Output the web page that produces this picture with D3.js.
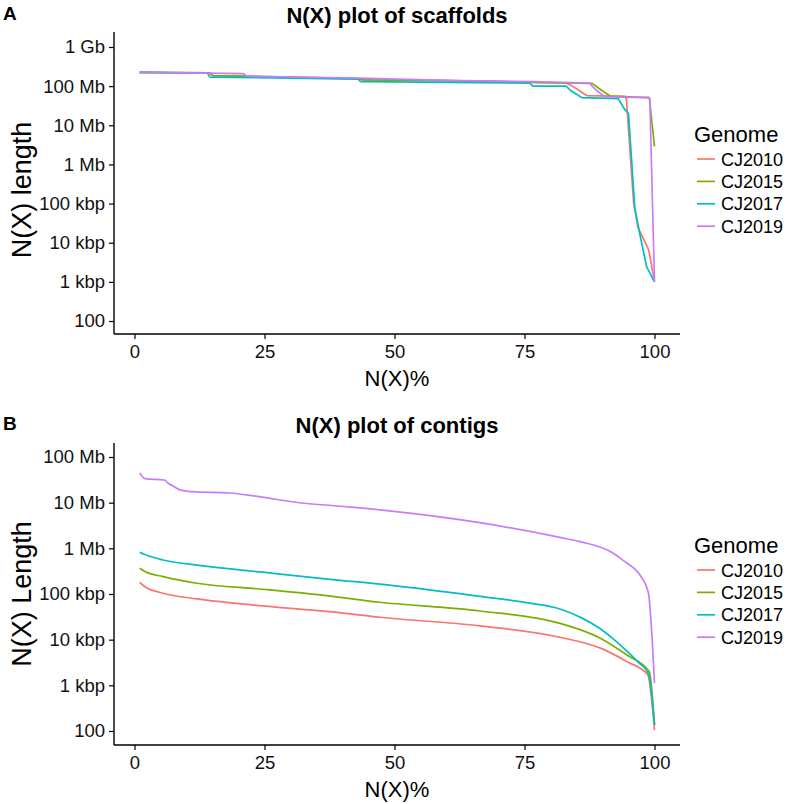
<!DOCTYPE html>
<html>
<head>
<meta charset="utf-8">
<script src="https://cdn.jsdelivr.net/npm/d3@7"></script>
<style>
  html, body { margin: 0; padding: 0; background: #fff; }
  svg { display: block; font-family: "Liberation Sans", Arial, sans-serif; }
</style>
</head>
<body>
<svg id="chart" width="787" height="804"></svg>
<script>
// ---------- DATA ----------
const genomes = ["CJ2010", "CJ2015", "CJ2017", "CJ2019"];
const colors = ["#F8766D", "#7CAE00", "#00BFC4", "#C77CFF"];

const xTicks = [0, 25, 50, 75, 100];

const scaffoldTicks = [1e9, 1e8, 1e7, 1e6, 1e5, 1e4, 1e3, 100];
const scaffoldTickLabels = ["1 Gb", "100 Mb", "10 Mb", "1 Mb", "100 kbp", "10 kbp", "1 kbp", "100"];

const contigTicks = [1e8, 1e7, 1e6, 1e5, 1e4, 1e3, 100];
const contigTickLabels = ["100 Mb", "10 Mb", "1 Mb", "100 kbp", "10 kbp", "1 kbp", "100"];

// Scaffold N(X): [N(X)%, length in bp]
const scaffoldCJ2010 = [[1,2.26e8],[7,2.2e8],[14.5,2.15e8],[15,1.85e8],[21,1.8e8],[30,1.65e8],[43,1.55e8],[44,1.45e8],[60,1.38e8],[72,1.3e8],[77,1.25e8],[83,1.2e8],[84.5,9.5e7],[86,7.0e7],[87,5.7e7],[94.3,5.5e7],[94.6,4.7e7],[96,1.0e5],[96.8,2.5e4],[98.9,6.5e3],[100,1.0e3]];
const scaffoldCJ2015 = [[1,2.26e8],[14.5,2.2e8],[15,1.85e8],[21,1.8e8],[43,1.55e8],[44,1.45e8],[60,1.38e8],[77,1.25e8],[88,1.18e8],[90,7.5e7],[91.5,5.6e7],[99,5.1e7],[100,2.9e6]];
const scaffoldCJ2017 = [[1,2.26e8],[14,2.2e8],[14.5,1.7e8],[30,1.6e8],[43,1.5e8],[43.5,1.3e8],[60,1.25e8],[76,1.2e8],[76.6,1.0e8],[83,1.0e8],[84,7.5e7],[86,5.1e7],[93,4.8e7],[94.3,2.5e7],[95,2.0e7],[96.2,8.0e4],[97.2,1.6e4],[98.5,2.4e3],[100,1.0e3]];
const scaffoldCJ2019 = [[1,2.26e8],[21,2.1e8],[21.5,1.8e8],[43,1.6e8],[60,1.4e8],[77,1.3e8],[87.5,1.2e8],[88,1.0e8],[89,7.5e7],[90.5,5.3e7],[99,5.1e7],[99.1,4.7e7],[100,1.0e3]];

// Contig N(X)
const contigCJ2010 = [[1,1.8e5],[2,1.44e5],[5.5,1.04e5],[12,7.8e4],[24.7,5.5e4],[37.6,4.1e4],[47.2,3.1e4],[66.4,2.0e4],[81.8,1.13e4],[89.5,6.6e3],[94.7,3.3e3],[98.7,1.7e3],[100,105]];
const contigCJ2015 = [[1,3.66e5],[2,3.1e5],[5.5,2.4e5],[12,1.72e5],[24.7,1.27e5],[37.6,9.0e4],[47.2,6.6e4],[66.4,4.25e4],[81.8,2.28e4],[89.5,1.09e4],[94.7,4.6e3],[99,2.0e3],[100,135]];
const contigCJ2017 = [[1,8.2e5],[2,7.3e5],[5.5,5.55e5],[12,4.3e5],[24.7,3.0e5],[37.6,2.1e5],[49,1.57e5],[66.4,8.9e4],[76,6.3e4],[81.8,4.7e4],[86,3.0e4],[89.5,1.75e4],[92,1.05e4],[94.7,5.6e3],[97,3.1e3],[98.8,1.86e3],[100,135]];
const contigCJ2019 = [[1,4.5e7],[2,3.35e7],[5.9,3.1e7],[6.4,2.7e7],[7.2,2.4e7],[8.75,1.9e7],[11,1.74e7],[18.4,1.63e7],[24,1.35e7],[31,1.02e7],[41,8.1e6],[49,6.6e6],[66.4,3.64e6],[81.8,1.74e6],[85.7,1.4e6],[92,7.9e5],[93.9,5.5e5],[97.2,2.6e5],[98.5,1.4e5],[98.9,9.5e4],[100,1.12e3]];

const scaffoldSeries = [scaffoldCJ2010, scaffoldCJ2015, scaffoldCJ2017, scaffoldCJ2019];
const contigSeries = [contigCJ2010, contigCJ2015, contigCJ2017, contigCJ2019];

// ---------- DRAW ----------
const svg = d3.select("#chart");
const axisLeftX = 114, axisRightX = 680;
const x = d3.scaleLinear().domain([0, 100]).range([134.5, 654.5]);

function panel(opts) {
  const g = svg.append("g");
  const y = d3.scaleLog().domain([100, opts.topTick]).range([opts.y100, opts.yTop]);

  // series
  const line = d3.line().x(d => x(d[0])).y(d => y(d[1])).curve(opts.curve);
  opts.series.forEach((s, i) => {
    g.append("path").datum(s)
      .attr("fill", "none")
      .attr("stroke", colors[i])
      .attr("stroke-width", 1.7)
      .attr("stroke-linejoin", "round")
      .attr("d", line);
  });

  // y axis
  const ya = g.append("g").attr("transform", `translate(${axisLeftX},0)`)
    .call(d3.axisLeft(y).tickValues(opts.ticks)
      .tickFormat((d, i) => opts.tickLabels[i]).tickSize(5).tickPadding(4));
  ya.select(".domain").remove();
  ya.selectAll(".tick line").attr("stroke", "#000").attr("stroke-width", 1.2);
  ya.selectAll(".tick text").attr("fill", "#111").style("font-size", "18.5px")
    .style("font-family", "Liberation Sans, Arial, sans-serif");
  g.append("line").attr("x1", axisLeftX).attr("x2", axisLeftX)
    .attr("y1", opts.panelTop).attr("y2", opts.panelBottom)
    .attr("stroke", "#000").attr("stroke-width", 1.4);

  // x axis
  const xa = g.append("g").attr("transform", `translate(0,${opts.panelBottom})`)
    .call(d3.axisBottom(x).tickValues(xTicks).tickSize(5).tickPadding(6));
  xa.select(".domain").remove();
  xa.selectAll(".tick line").attr("stroke", "#000").attr("stroke-width", 1.2);
  xa.selectAll(".tick text").attr("fill", "#111").style("font-size", "18.5px")
    .style("font-family", "Liberation Sans, Arial, sans-serif");
  g.append("line").attr("x1", axisLeftX).attr("x2", axisRightX)
    .attr("y1", opts.panelBottom).attr("y2", opts.panelBottom)
    .attr("stroke", "#000").attr("stroke-width", 1.4);

  // titles
  const cx = (axisLeftX + axisRightX) / 2;
  g.append("text").attr("x", cx).attr("y", opts.titleY)
    .attr("text-anchor", "middle").style("font-size", "22px").style("font-weight", "bold")
    .text(opts.title);
  g.append("text").attr("x", 3).attr("y", opts.letterY)
    .style("font-size", "19px").style("font-weight", "bold").text(opts.letter);
  g.append("text").attr("x", cx).attr("y", opts.panelBottom + 52)
    .attr("text-anchor", "middle").style("font-size", "22px").text("N(X)%");
  g.append("text")
    .attr("transform", `translate(31,${opts.yTitleY}) rotate(-90)`)
    .attr("text-anchor", "middle").style("font-size", "27px").text(opts.yTitle);

  // legend
  const lg = g.append("g");
  lg.append("text").attr("x", 694).attr("y", opts.legendY - 17)
    .style("font-size", "22px").text("Genome");
  genomes.forEach((name, i) => {
    const yy = opts.legendY + i * 22.4;
    lg.append("line").attr("x1", 697).attr("x2", 715).attr("y1", yy).attr("y2", yy)
      .attr("stroke", colors[i]).attr("stroke-width", 1.7);
    lg.append("text").attr("x", 721).attr("y", yy + 6.5)
      .style("font-size", "18px").text(name);
  });
}

panel({
  series: scaffoldSeries, ticks: scaffoldTicks, tickLabels: scaffoldTickLabels,
  topTick: 1e9, yTop: 47, y100: 321, panelTop: 32, panelBottom: 334,
  title: "N(X) plot of scaffolds", titleY: 23, letter: "A", letterY: 20,
  yTitle: "N(X) length", yTitleY: 190, legendY: 159, curve: d3.curveLinear
});

panel({
  series: contigSeries, ticks: contigTicks, tickLabels: contigTickLabels,
  topTick: 1e8, yTop: 457, y100: 731, panelTop: 443, panelBottom: 745,
  title: "N(X) plot of contigs", titleY: 433, letter: "B", letterY: 430,
  yTitle: "N(X) Length", yTitleY: 594, legendY: 570, curve: d3.curveMonotoneX
});
</script>
</body>
</html>
